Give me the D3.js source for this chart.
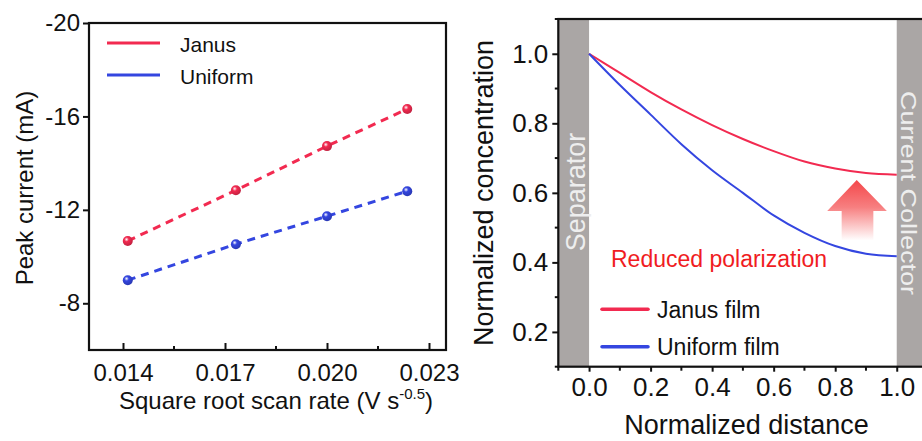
<!DOCTYPE html>
<html>
<head>
<meta charset="utf-8">
<script src="https://cdn.jsdelivr.net/npm/d3@7"></script>
<style>
  html, body { margin: 0; padding: 0; background: #fff; }
  svg { display: block; font-family: "Liberation Sans", Arial, sans-serif; }
</style>
</head>
<body>
<svg id="chart" width="922" height="441"></svg>
<script>
// ---- Left panel: peak current vs square root of scan rate ----
const rateX = [0.01414, 0.01732, 0.02, 0.02236];
const janusPeak = [-10.67, -12.84, -14.73, -16.32];
const uniformPeak = [-8.99, -10.53, -11.73, -12.80];
const peakTicks = [-20, -16, -12, -8];
const rateTicks = [0.014, 0.017, 0.020, 0.023];
const rateMinorTicks = [0.0155, 0.0185, 0.0215];

// ---- Right panel: concentration profile across the film ----
const distance = [0, 0.1, 0.2, 0.3, 0.4, 0.5, 0.6, 0.7, 0.8, 0.9, 1.0];
const janusConc = [1.0, 0.945, 0.89, 0.84, 0.795, 0.755, 0.72, 0.69, 0.67, 0.657, 0.652];
const uniformConc = [1.0, 0.91, 0.825, 0.74, 0.665, 0.6, 0.535, 0.485, 0.447, 0.425, 0.418];
const concTicks = [0.2, 0.4, 0.6, 0.8, 1.0];
const concMinorTicks = [0.1, 0.3, 0.5, 0.7, 0.9, 1.1];
const distTicks = [0.0, 0.2, 0.4, 0.6, 0.8, 1.0];
const distMinorTicks = [-0.1, 0.1, 0.3, 0.5, 0.7, 0.9];

const RED = "#f22a50";
const BLUE = "#3446e0";
const INK = "#111";

const svg = d3.select("#chart");
const defs = svg.append("defs");

// shaded sphere markers
function sphereGrad(id, base) {
  const g = defs.append("radialGradient").attr("id", id)
    .attr("cx", "38%").attr("cy", "35%").attr("r", "65%");
  g.append("stop").attr("offset", "0%").attr("stop-color", "#fff");
  g.append("stop").attr("offset", "35%").attr("stop-color", base);
  g.append("stop").attr("offset", "100%").attr("stop-color", d3.color(base).darker(0.6));
}
sphereGrad("ballRed", RED);
sphereGrad("ballBlue", BLUE);

const arrowGrad = defs.append("linearGradient").attr("id", "arrowFade")
  .attr("x1", 0).attr("y1", 0).attr("x2", 0).attr("y2", 1);
arrowGrad.append("stop").attr("offset", "0%").attr("stop-color", "#f4474a");
arrowGrad.append("stop").attr("offset", "45%").attr("stop-color", "#f77f80");
arrowGrad.append("stop").attr("offset", "100%").attr("stop-color", "#ffffff");

// plain hyphen-minus labels
const plainNum = d => String(d);

// ================= Left panel =================
const xL = d3.scaleLinear().domain([0.013, 0.0235]).range([89, 446]);
const yL = d3.scaleLinear().domain([-6, -20]).range([350, 23]);
const left = svg.append("g");

// y axis (outward ticks)
const yAxisL = left.append("g").attr("transform", `translate(${xL.range()[0]},0)`)
  .call(d3.axisLeft(yL).tickValues(peakTicks).tickSize(6).tickPadding(3).tickFormat(plainNum));
yAxisL.select(".domain").remove();
yAxisL.selectAll(".tick line").attr("stroke", INK).attr("stroke-width", 2);
yAxisL.selectAll(".tick text").attr("font-size", 24).attr("fill", INK)
  .attr("font-family", "Liberation Sans, Arial, sans-serif");

// x axis (inward ticks)
const xAxisL = left.append("g").attr("transform", `translate(0,${yL.range()[0]})`)
  .call(d3.axisBottom(xL).tickValues(rateTicks).tickSize(-7).tickPadding(14).tickFormat(d3.format(".3f")));
xAxisL.select(".domain").remove();
xAxisL.selectAll(".tick line").attr("stroke", INK).attr("stroke-width", 2);
xAxisL.selectAll(".tick text").attr("font-size", 24).attr("fill", INK)
  .attr("font-family", "Liberation Sans, Arial, sans-serif");
left.append("g").selectAll("line").data(rateMinorTicks).join("line")
  .attr("x1", d => xL(d)).attr("x2", d => xL(d))
  .attr("y1", yL.range()[0]).attr("y2", yL.range()[0] - 4)
  .attr("stroke", INK).attr("stroke-width", 2);

// frame
left.append("rect")
  .attr("x", xL.range()[0]).attr("y", yL.range()[1])
  .attr("width", xL.range()[1] - xL.range()[0]).attr("height", yL.range()[0] - yL.range()[1])
  .attr("fill", "none").attr("stroke", INK).attr("stroke-width", 2.2);

// series
const seriesL = [
  { name: "Janus", vals: janusPeak, color: RED, ball: "ballRed" },
  { name: "Uniform", vals: uniformPeak, color: BLUE, ball: "ballBlue" }
];
const lineL = d3.line().x(d => xL(d[0])).y(d => yL(d[1]));
seriesL.forEach(s => {
  const pts = rateX.map((x, i) => [x, s.vals[i]]);
  left.append("path").attr("d", lineL(pts)).attr("fill", "none")
    .attr("stroke", s.color).attr("stroke-width", 3).attr("stroke-dasharray", "8,6");
  left.append("g").selectAll("circle").data(pts).join("circle")
    .attr("cx", d => xL(d[0])).attr("cy", d => yL(d[1])).attr("r", 5)
    .attr("fill", `url(#${s.ball})`);
});

// legend
seriesL.forEach((s, i) => {
  const y = 43 + i * 32;
  left.append("line").attr("x1", 107).attr("x2", 160).attr("y1", y).attr("y2", y)
    .attr("stroke", s.color).attr("stroke-width", 3);
  left.append("text").attr("x", 180).attr("y", y + 9).attr("font-size", 21).attr("fill", INK).text(s.name);
});

// axis titles
left.append("text").attr("transform", "translate(33,188) rotate(-90)")
  .attr("text-anchor", "middle").attr("font-size", 24).attr("fill", INK).text("Peak current (mA)");
const xtL = left.append("text").attr("x", 276).attr("y", 409).attr("text-anchor", "middle")
  .attr("font-size", 24).attr("fill", INK);
xtL.append("tspan").text("Square root scan rate (V s");
xtL.append("tspan").attr("font-size", 15).attr("dy", -10).text("-0.5");
xtL.append("tspan").attr("dy", 10).text(")");

// ================= Right panel =================
const xR = d3.scaleLinear().domain([-0.1, 1.1]).range([558.3, 927.5]);
const yR = d3.scaleLinear().domain([0.1, 1.1]).range([366.7, 19]);
const right = svg.append("g");

// electrode bands
right.append("rect").attr("x", xR(-0.1)).attr("y", yR(1.1))
  .attr("width", xR(0) - xR(-0.1)).attr("height", yR(0.1) - yR(1.1)).attr("fill", "#aaa6a5");
right.append("rect").attr("x", xR(1.0)).attr("y", yR(1.1))
  .attr("width", xR(1.1) - xR(1.0)).attr("height", yR(0.1) - yR(1.1)).attr("fill", "#aaa6a5");
right.append("text").attr("transform", `translate(${xR(-0.05) + 11},192) rotate(-90)`)
  .attr("text-anchor", "middle").attr("font-size", 27).attr("fill", "#eeeeee").text("Separator");
right.append("text").attr("transform", `translate(900.5,193) rotate(90) scale(1,0.8)`)
  .attr("text-anchor", "middle").attr("font-size", 27).attr("fill", "#eeeeee").text("Current Collector");

// y axis
const yAxisR = right.append("g").attr("transform", `translate(${xR.range()[0]},0)`)
  .call(d3.axisLeft(yR).tickValues(concTicks).tickSize(6).tickPadding(4).tickFormat(d3.format(".1f")));
yAxisR.select(".domain").remove();
yAxisR.selectAll(".tick line").attr("stroke", INK).attr("stroke-width", 2);
yAxisR.selectAll(".tick text").attr("font-size", 26).attr("fill", INK)
  .attr("font-family", "Liberation Sans, Arial, sans-serif");
right.append("g").selectAll("line").data(concMinorTicks).join("line")
  .attr("x1", xR.range()[0]).attr("x2", xR.range()[0] - 3.5)
  .attr("y1", d => yR(d)).attr("y2", d => yR(d)).attr("stroke", INK).attr("stroke-width", 2);

// x axis
const xAxisR = right.append("g").attr("transform", `translate(0,${yR.range()[0]})`)
  .call(d3.axisBottom(xR).tickValues(distTicks).tickSize(5).tickPadding(6).tickFormat(d3.format(".1f")));
xAxisR.select(".domain").remove();
xAxisR.selectAll(".tick line").attr("stroke", INK).attr("stroke-width", 2);
xAxisR.selectAll(".tick text").attr("font-size", 26).attr("fill", INK)
  .attr("font-family", "Liberation Sans, Arial, sans-serif");
right.append("g").selectAll("line").data(distMinorTicks).join("line")
  .attr("x1", d => xR(d)).attr("x2", d => xR(d))
  .attr("y1", yR.range()[0]).attr("y2", yR.range()[0] + 4).attr("stroke", INK).attr("stroke-width", 2);

// frame
right.append("rect")
  .attr("x", xR.range()[0]).attr("y", yR.range()[1])
  .attr("width", xR.range()[1] - xR.range()[0]).attr("height", yR.range()[0] - yR.range()[1])
  .attr("fill", "none").attr("stroke", INK).attr("stroke-width", 2.2);

// concentration curves
const lineR = d3.line().x(d => xR(d[0])).y(d => yR(d[1])).curve(d3.curveMonotoneX);
const seriesR = [
  { name: "Janus film", vals: janusConc, color: RED },
  { name: "Uniform film", vals: uniformConc, color: BLUE }
];
seriesR.forEach(s => {
  right.append("path").attr("d", lineR(distance.map((x, i) => [x, s.vals[i]])))
    .attr("fill", "none").attr("stroke", s.color).attr("stroke-width", 2);
});

// arrow: gap between the two end concentrations
const arrowPts = [
  [0.87, 0.637], [0.968, 0.548], [0.924, 0.548], [0.924, 0.463],
  [0.821, 0.463], [0.821, 0.548], [0.774, 0.548]
];
right.append("path")
  .attr("d", d3.line().x(d => xR(d[0])).y(d => yR(d[1]))(arrowPts) + "Z")
  .attr("fill", "url(#arrowFade)");

right.append("text").attr("x", 611).attr("y", 266.5).attr("font-size", 23)
  .attr("fill", "#f01c22").text("Reduced polarization");

// legend
seriesR.forEach((s, i) => {
  const y = 309.3 + i * 37.4;
  right.append("line").attr("x1", 602).attr("x2", 648).attr("y1", y).attr("y2", y)
    .attr("stroke", s.color).attr("stroke-width", 3.5).attr("stroke-linecap", "round");
  right.append("text").attr("x", 657).attr("y", y + 8.5).attr("font-size", 23).attr("fill", INK).text(s.name);
});

// axis titles
right.append("text").attr("transform", "translate(493,193) rotate(-90)")
  .attr("text-anchor", "middle").attr("font-size", 27).attr("fill", INK).text("Normalized concentration");
right.append("text").attr("x", 746.5).attr("y", 434).attr("text-anchor", "middle")
  .attr("font-size", 27).attr("fill", INK).text("Normalized distance");
</script>
</body>
</html>
